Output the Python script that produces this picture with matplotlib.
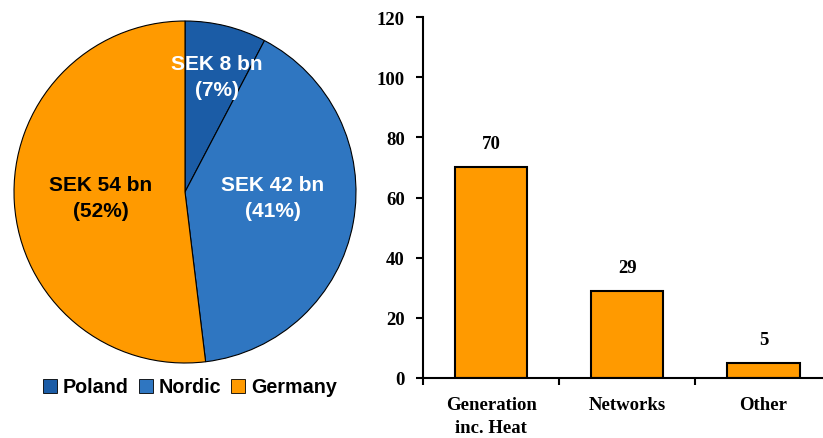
import matplotlib
matplotlib.use("Agg")
import matplotlib.pyplot as plt
import numpy as np

# pie data (SEK bn)
regions = ["Poland", "Nordic", "Germany"]
region_values = [8, 42, 54]
region_labels = ["SEK 8 bn\n(7%)", "SEK 42 bn\n(41%)", "SEK 54 bn\n(52%)"]
region_colors = ["#1B5CA6", "#2F76C1", "#FF9A00"]
label_colors = ["white", "white", "black"]
label_dist = [0.70, 0.515, 0.495]
label_shift = [-1.5, 7.0, 0.5]  # degrees, nudges label off the wedge centre line

# bar data
categories = ["Generation\ninc. Heat", "Networks", "Other"]
cat_values = [70, 29, 5]

fig = plt.figure(figsize=(8.23, 4.39), dpi=100)

# --- pie ---
ax1 = fig.add_axes([14 / 823, (439 - 193 - 171) / 439, 342 / 823, 342 / 439])
wedges, _ = ax1.pie(region_values, colors=region_colors, startangle=90,
                    counterclock=False, radius=1.0,
                    wedgeprops=dict(edgecolor="black", linewidth=0.8))
ax1.set_xlim(-1.0, 1.0)
ax1.set_ylim(-1.0, 1.0)
ax1.set_aspect("equal")
for w, lab, c, d, sh in zip(wedges, region_labels, label_colors, label_dist, label_shift):
    ang = np.deg2rad((w.theta1 + w.theta2) / 2 + sh)
    ax1.text(d * np.cos(ang), d * np.sin(ang), lab, ha="center", va="center",
             color=c, fontsize=15, fontweight="bold", family="Liberation Sans",
             linespacing=1.45)

fig.legend(wedges, regions, loc="center", bbox_to_anchor=(190 / 823, 1 - 388 / 439),
           ncol=3, frameon=False, handlelength=0.7, handleheight=0.7,
           handletextpad=0.3, columnspacing=0.5,
           prop=dict(family="Liberation Sans", weight="bold", size=14.2))
for h in fig.legends[0].legend_handles:
    h.set_edgecolor("black")
    h.set_linewidth(0.6)

# --- bars ---
ax2 = fig.add_axes([423 / 823, (439 - 379) / 439, (822 - 423) / 823, (379 - 18) / 439])
x = np.arange(len(categories))
bars = ax2.bar(x, cat_values, width=0.53, color="#FF9A00", edgecolor="black", linewidth=1.5)
ax2.set_ylim(0, 120)
ax2.set_xlim(-0.5, 2.43)
ax2.set_yticks(np.arange(0, 121, 20))
ax2.set_xticks(x)
ax2.set_xticklabels(categories)
ax2.set_xticks([-0.5, 0.5, 1.5], minor=True)
ax2.tick_params(axis="x", which="major", length=0, pad=13)
ax2.tick_params(axis="x", which="minor", length=5, width=1.5, direction="out")
ax2.tick_params(axis="y", length=5, width=1.5, direction="out", pad=8)
for s in ["top", "right"]:
    ax2.spines[s].set_visible(False)
for s in ["left", "bottom"]:
    ax2.spines[s].set_linewidth(1.5)
for lab in ax2.get_xticklabels() + ax2.get_yticklabels():
    lab.set_family("Liberation Serif")
    lab.set_fontweight("bold")
    lab.set_fontsize(13.5)
for lab in ax2.get_xticklabels():
    lab.set_va("top")
    lab.set_linespacing(1.45)
for b, v in zip(bars, cat_values):
    ax2.annotate(str(v), (b.get_x() + b.get_width() / 2, v), xytext=(0, 17),
                 textcoords="offset points", ha="center", va="center",
                 family="Liberation Serif", fontweight="bold", fontsize=13.5)

fig.savefig("out.png", dpi=100)
